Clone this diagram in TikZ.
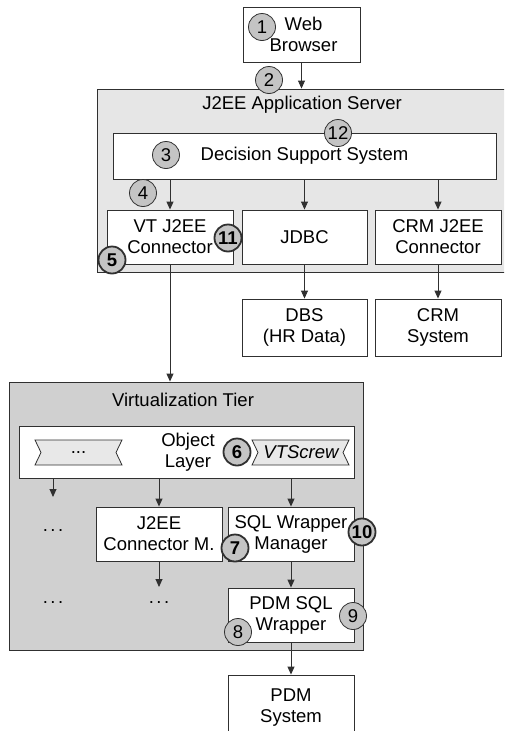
\documentclass[tikz,border=0pt]{standalone}
\usepackage{fontspec}
\setmainfont{Liberation Sans}
\usetikzlibrary{arrows.meta}
\definecolor{linec}{HTML}{303030}
\definecolor{srvgray}{HTML}{E6E6E6}
\definecolor{vtgray}{HTML}{D0D0D0}
\definecolor{circgray}{HTML}{C4C4C4}
\definecolor{ribgray}{HTML}{E8E8E8}
\begin{document}
\begin{tikzpicture}[x=1pt,y=-1pt,
  font=\fontsize{18.5}{21}\selectfont,
  box/.style={draw=linec, fill=white, line width=0.9pt, inner sep=0pt, align=center},
  area/.style={draw=linec, line width=0.9pt, inner sep=0pt},
  circ/.style={circle, draw=linec, fill=circgray, minimum size=27pt, inner sep=0pt, line width=0.8pt},
  circb/.style={circ, line width=1.8pt, font=\fontsize{18.5}{21}\selectfont\bfseries},
  ribbon/.style={draw=linec, fill=ribgray, line width=0.8pt},
  arr/.style={draw=linec, line width=0.9pt, -{Triangle[length=8pt,width=7pt]}},
  ln/.style={draw=linec, line width=0.9pt}]
\useasboundingbox (0,0) rectangle (504,731);
\clip (0,0) rectangle (504,731);
% containers
\node[area, fill=srvgray, minimum width=418pt, minimum height=183pt] (srv) at (306,180.5) {};
\node (srvt) at (302,105) {J2EE Application Server};
\node[area, fill=vtgray, minimum width=354pt, minimum height=268pt] (vt) at (186,516) {};
\node (vtt) at (183,400) {Virtualization Tier};
% top boxes
\node[box, minimum width=117pt, minimum height=55pt] (wb) at (301.5,34.5) {\hspace*{4pt}Web\\\hspace*{4pt}Browser};
\node[box, minimum width=383pt, minimum height=46pt] (dss) at (304.5,156) {Decision Support System};
\node[box, minimum width=126pt, minimum height=54pt] (vtc) at (170,237) {VT J2EE\\Connector};
\node[box, minimum width=125pt, minimum height=54pt] (jdbc) at (304.5,237) {JDBC};
\node[box, minimum width=126pt, minimum height=54pt] (crmc) at (438,237) {CRM J2EE\\Connector};
\node[box, minimum width=125pt, minimum height=57pt] (dbs) at (304.5,327.5) {DBS\\(HR Data)};
\node[box, minimum width=126pt, minimum height=57pt] (crms) at (438,327.5) {CRM\\System};
% virtualization tier
\node[box, minimum width=335pt, minimum height=52pt] (ol) at (186.5,452) {};
\draw[ribbon] (35,440) -- (122,440) -- (116,452.5) -- (122,465) -- (35,465) -- (41,452.5) -- cycle;
\node (rib1) at (78.5,452.5) {...};
\draw[ribbon] (252,440) -- (349,440) -- (343,452.5) -- (349,465) -- (252,465) -- (258,452.5) -- cycle;
\node (rib2) at (301,452.5) {\itshape VTScrew};
\node[align=center] (olt) at (188,452) {Object\\Layer};
\node[box, minimum width=126pt, minimum height=54pt] (jcm) at (159,534) {J2EE\\Connector M.};
\node[box, minimum width=126pt, minimum height=54pt] (swm) at (291,534) {SQL Wrapper\\Manager};
\node[box, minimum width=126pt, minimum height=54pt] (psw) at (291,615) {PDM SQL\\Wrapper};
\node[box, minimum width=126pt, minimum height=66pt] (pdm) at (291,708) {PDM\\System};
\node (d1) at (53,531) {.\hspace{2.5pt}.\hspace{2.5pt}.};
\node (d2) at (53,603) {.\hspace{2.5pt}.\hspace{2.5pt}.};
\node (d3) at (159,603) {.\hspace{2.5pt}.\hspace{2.5pt}.};
\coordinate (e1) at (53,497);
\coordinate (e2) at (159,587);
% connectors
\draw[arr] (wb.south) -- (wb.south |- srv.north);
\draw[arr] (vtc.north |- dss.south) -- (vtc.north);
\draw[arr] (jdbc.north |- dss.south) -- (jdbc.north);
\draw[arr] (crmc.north |- dss.south) -- (crmc.north);
\draw[arr] (jdbc.south) -- (dbs.north);
\draw[arr] (crmc.south) -- (crms.north);
\draw[arr] (vtc.south) -- (vtc.south |- vt.north);
\draw[arr] (e1 |- ol.south) -- (e1);
\draw[arr] (jcm.north |- ol.south) -- (jcm.north);
\draw[arr] (swm.north |- ol.south) -- (swm.north);
\draw[arr] (jcm.south) -- (e2);
\draw[arr] (swm.south) -- (psw.north);
\draw[arr] (psw.south) -- (pdm.north);
% numbered circles
\node[circ] (c1) at (262,27) {1};
\node[circ] (c2) at (269,80) {2};
\node[circ] (c12) at (338,133) {12};
\node[circ] (c3) at (166,155) {3};
\node[circ] (c4) at (143,193) {4};
\node[circb] (c11) at (228,238) {11};
\node[circb] (c5) at (112,260) {5};
\node[circb] (c6) at (237,452) {6};
\node[circb] (c10) at (362,532) {10};
\node[circb] (c7) at (235,548) {7};
\node[circ] (c9) at (353,616) {9};
\node[circ] (c8) at (238,632) {8};
\end{tikzpicture}
\end{document}
